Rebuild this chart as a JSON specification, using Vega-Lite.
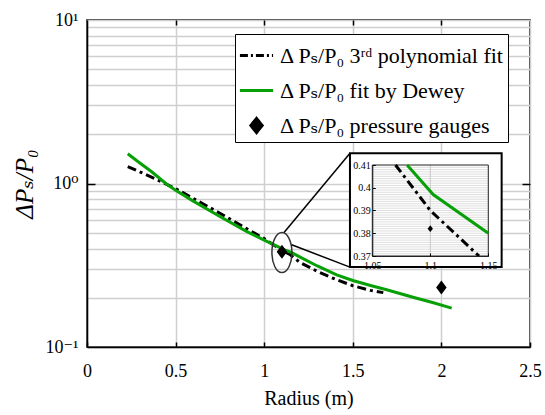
{
  "$schema": "https://vega.github.io/schema/vega-lite/v6.json",
  "width": 443,
  "height": 327,
  "autosize": "none",
  "padding": {"left": 87, "top": 20, "right": 15, "bottom": 68},
  "config": {
    "view": {"stroke": "black", "strokeWidth": 1.5},
    "font": "Times New Roman, Liberation Serif, DejaVu Serif, serif",
    "axis": {"labelFont": "Times New Roman, Liberation Serif, DejaVu Serif, serif", "titleFont": "Times New Roman, Liberation Serif, DejaVu Serif, serif"},
    "legend": {"labelFont": "Times New Roman, Liberation Serif, DejaVu Serif, serif"}
  },
  "datasets": {
    "d": [
      {"series": "poly", "r": 0.23, "p": 1.27},
      {"series": "poly", "r": 0.32, "p": 1.15},
      {"series": "poly", "r": 0.40, "p": 1.05},
      {"series": "poly", "r": 0.5, "p": 0.93},
      {"series": "poly", "r": 0.6, "p": 0.81},
      {"series": "poly", "r": 0.75, "p": 0.658},
      {"series": "poly", "r": 0.9, "p": 0.53},
      {"series": "poly", "r": 1.0, "p": 0.46},
      {"series": "poly", "r": 1.07, "p": 0.41},
      {"series": "poly", "r": 1.1, "p": 0.39},
      {"series": "poly", "r": 1.142, "p": 0.37},
      {"series": "poly", "r": 1.2, "p": 0.33},
      {"series": "poly", "r": 1.3, "p": 0.29},
      {"series": "poly", "r": 1.4, "p": 0.26},
      {"series": "poly", "r": 1.5, "p": 0.237},
      {"series": "poly", "r": 1.6, "p": 0.222},
      {"series": "poly", "r": 1.672, "p": 0.215},
      {"series": "dewey", "r": 0.23, "p": 1.52},
      {"series": "dewey", "r": 0.3, "p": 1.33},
      {"series": "dewey", "r": 0.365, "p": 1.18},
      {"series": "dewey", "r": 0.45, "p": 0.99},
      {"series": "dewey", "r": 0.5, "p": 0.91},
      {"series": "dewey", "r": 0.6, "p": 0.78},
      {"series": "dewey", "r": 0.75, "p": 0.628},
      {"series": "dewey", "r": 0.9, "p": 0.51},
      {"series": "dewey", "r": 1.0, "p": 0.45},
      {"series": "dewey", "r": 1.08, "p": 0.41},
      {"series": "dewey", "r": 1.1025, "p": 0.397},
      {"series": "dewey", "r": 1.15, "p": 0.38},
      {"series": "dewey", "r": 1.2, "p": 0.356},
      {"series": "dewey", "r": 1.3, "p": 0.313},
      {"series": "dewey", "r": 1.409, "p": 0.276},
      {"series": "dewey", "r": 1.5, "p": 0.255},
      {"series": "dewey", "r": 1.6, "p": 0.238},
      {"series": "dewey", "r": 1.691, "p": 0.224},
      {"series": "dewey", "r": 1.85, "p": 0.2},
      {"series": "dewey", "r": 1.95, "p": 0.187},
      {"series": "dewey", "r": 2.058, "p": 0.173},
      {"series": "gauge", "r": 1.1, "p": 0.382},
      {"series": "gauge", "r": 2.0, "p": 0.231},
      {"series": "ellipse", "r": 1.1, "p": 0.378},
      {"series": "link", "r": 1.112, "p": 0.502, "r2": 1.484, "p2": 1.532},
      {"series": "link", "r": 1.155, "p": 0.422, "r2": 1.484, "p2": 0.308},
      {"series": "frame", "r": 1.484, "p": 1.532, "r2": 2.34, "p2": 0.308},
      {"series": "insetbox", "r": 1.05, "p": 0.37, "r2": 1.15, "p2": 0.41},
      {"series": "vgrid", "r": 1.1, "p": 0.37, "p2": 0.41},
      {"series": "hgrid", "r": 1.05, "r2": 1.15, "p": 0.371},
      {"series": "hgrid", "r": 1.05, "r2": 1.15, "p": 0.372},
      {"series": "hgrid", "r": 1.05, "r2": 1.15, "p": 0.373},
      {"series": "hgrid", "r": 1.05, "r2": 1.15, "p": 0.374},
      {"series": "hgrid", "r": 1.05, "r2": 1.15, "p": 0.375},
      {"series": "hgrid", "r": 1.05, "r2": 1.15, "p": 0.376},
      {"series": "hgrid", "r": 1.05, "r2": 1.15, "p": 0.377},
      {"series": "hgrid", "r": 1.05, "r2": 1.15, "p": 0.378},
      {"series": "hgrid", "r": 1.05, "r2": 1.15, "p": 0.379},
      {"series": "hgrid", "r": 1.05, "r2": 1.15, "p": 0.38},
      {"series": "hgrid", "r": 1.05, "r2": 1.15, "p": 0.381},
      {"series": "hgrid", "r": 1.05, "r2": 1.15, "p": 0.382},
      {"series": "hgrid", "r": 1.05, "r2": 1.15, "p": 0.383},
      {"series": "hgrid", "r": 1.05, "r2": 1.15, "p": 0.384},
      {"series": "hgrid", "r": 1.05, "r2": 1.15, "p": 0.385},
      {"series": "hgrid", "r": 1.05, "r2": 1.15, "p": 0.386},
      {"series": "hgrid", "r": 1.05, "r2": 1.15, "p": 0.387},
      {"series": "hgrid", "r": 1.05, "r2": 1.15, "p": 0.388},
      {"series": "hgrid", "r": 1.05, "r2": 1.15, "p": 0.389},
      {"series": "hgrid", "r": 1.05, "r2": 1.15, "p": 0.39},
      {"series": "hgrid", "r": 1.05, "r2": 1.15, "p": 0.391},
      {"series": "hgrid", "r": 1.05, "r2": 1.15, "p": 0.392},
      {"series": "hgrid", "r": 1.05, "r2": 1.15, "p": 0.393},
      {"series": "hgrid", "r": 1.05, "r2": 1.15, "p": 0.394},
      {"series": "hgrid", "r": 1.05, "r2": 1.15, "p": 0.395},
      {"series": "hgrid", "r": 1.05, "r2": 1.15, "p": 0.396},
      {"series": "hgrid", "r": 1.05, "r2": 1.15, "p": 0.397},
      {"series": "hgrid", "r": 1.05, "r2": 1.15, "p": 0.398},
      {"series": "hgrid", "r": 1.05, "r2": 1.15, "p": 0.399},
      {"series": "hgrid", "r": 1.05, "r2": 1.15, "p": 0.4},
      {"series": "hgrid", "r": 1.05, "r2": 1.15, "p": 0.401},
      {"series": "hgrid", "r": 1.05, "r2": 1.15, "p": 0.402},
      {"series": "hgrid", "r": 1.05, "r2": 1.15, "p": 0.403},
      {"series": "hgrid", "r": 1.05, "r2": 1.15, "p": 0.404},
      {"series": "hgrid", "r": 1.05, "r2": 1.15, "p": 0.405},
      {"series": "hgrid", "r": 1.05, "r2": 1.15, "p": 0.406},
      {"series": "hgrid", "r": 1.05, "r2": 1.15, "p": 0.407},
      {"series": "hgrid", "r": 1.05, "r2": 1.15, "p": 0.408},
      {"series": "hgrid", "r": 1.05, "r2": 1.15, "p": 0.409}
    ]
  },
  "data": {"name": "d"},
  "layer": [
    {
      "encoding": {
        "x": {
          "field": "r", "type": "quantitative",
          "scale": {"domain": [0, 2.5], "nice": false, "zero": false},
          "axis": {
            "orient": "bottom",
            "values": [0, 0.5, 1, 1.5, 2, 2.5], "format": "~g",
            "labelFlush": false,
            "labelFontSize": 18, "labelColor": "black", "labelPadding": 20,
            "tickSize": -5, "tickColor": "black", "tickWidth": 1.5,
            "domainColor": "black", "domainWidth": 1.5,
            "grid": true, "gridColor": "#cfcfcf", "gridWidth": 1.5,
            "title": "Radius (m)", "titleFontSize": 20, "titleFontWeight": "normal",
            "titleColor": "black", "titlePadding": 8
          }
        },
        "y": {
          "field": "p", "type": "quantitative",
          "scale": {"type": "log", "domain": [0.1, 10], "nice": false},
          "axis": {
            "orient": "left",
            "values": [0.1, 0.2, 0.3, 0.4, 0.5, 0.6, 0.7, 0.8, 0.9, 1, 2, 3, 4, 5, 6, 7, 8, 9, 10],
            "labelExpr": "datum.value == 0.1 ? '10⁻¹' : datum.value == 1 ? '10⁰' : datum.value == 10 ? '10¹' : ''",
            "labelOverlap": false, "labelFlush": false,
            "labelFontSize": 18, "labelColor": "black", "labelPadding": 17,
            "tickSize": -8, "tickColor": "black", "tickWidth": 1.5,
            "tickOpacity": {"condition": {"test": "datum.value == 1", "value": 1}, "value": 0},
            "domainColor": "black", "domainWidth": 1.5,
            "grid": true, "gridColor": "#cfcfcf", "gridWidth": 1.5,
            "title": "ΔPₛ/P₀", "titleFontSize": 25, "titleFontStyle": "italic",
            "titleFontWeight": "normal", "titleColor": "black", "titlePadding": 8
          }
        },
        "color": {
          "field": "series", "type": "nominal",
          "scale": {"domain": ["poly", "dewey", "gauge"], "range": ["black", "#07a007", "black"]},
          "legend": {
            "orient": "none", "legendX": 148, "legendY": 14,
            "title": null,
            "labelExpr": "datum.value == 'poly' ? 'Δ Pₛ/P₀ 3ʳᵈ polynomial fit' : datum.value == 'dewey' ? 'Δ Pₛ/P₀ fit by Dewey' : 'Δ Pₛ/P₀ pressure gauges'",
            "labelFont": "Times New Roman, Liberation Serif, DejaVu Serif, serif",
            "labelFontSize": 22, "labelColor": "black",
            "labelLimit": 400, "labelOffset": 5,
            "symbolSize": 1100, "symbolStrokeWidth": 3,
            "rowPadding": 5, "padding": 3,
            "fillColor": "white", "strokeColor": "black",
            "encode": {
              "symbols": {
                "update": {
                  "shape": {"signal": "datum.value == 'gauge' ? 'M0,-1L0.8,0L0,1L-0.8,0Z' : 'stroke'"},
                  "size": {"signal": "datum.value == 'gauge' ? 200 : 1100"},
                  "strokeDash": {"signal": "datum.value == 'poly' ? [8, 3, 2, 3] : [1, 0]"},
                  "fill": {"signal": "datum.value == 'gauge' ? 'black' : 'transparent'"},
                  "stroke": {"signal": "datum.value == 'gauge' ? 'transparent' : datum.value == 'dewey' ? '#07a007' : 'black'"},
                  "strokeWidth": {"value": 3},
                  "opacity": {"value": 1}
                }
              }
            }
          }
        }
      },
      "layer": [
        {
          "transform": [{"filter": "datum.series == 'poly'"}],
          "mark": {"type": "line", "strokeWidth": 3, "strokeDash": [9, 4, 3, 4]}
        },
        {
          "transform": [{"filter": "datum.series == 'dewey'"}],
          "mark": {"type": "line", "strokeWidth": 3}
        },
        {
          "transform": [{"filter": "datum.series == 'gauge'"}],
          "mark": {"type": "point", "filled": true, "opacity": 1, "shape": "M0,-1L0.75,0L0,1L-0.75,0Z", "size": 196}
        }
      ]
    },
    {
      "encoding": {
        "x": {
          "field": "r", "type": "quantitative",
          "scale": {"domain": [0, 2.5], "nice": false, "zero": false},
          "axis": {
            "orient": "top", "values": [0.5, 1, 1.5, 2], "labels": false,
            "tickSize": -5, "tickColor": "black", "tickWidth": 1.5,
            "domain": false, "grid": false, "title": null
          }
        },
        "y": {
          "field": "p", "type": "quantitative",
          "scale": {"type": "log", "domain": [0.1, 10], "nice": false},
          "axis": {
            "orient": "right", "values": [1], "labels": false,
            "tickSize": -8, "tickColor": "black", "tickWidth": 1.5,
            "domain": false, "grid": false, "title": null
          }
        }
      },
      "layer": [
        {
          "transform": [{"filter": "datum.series == 'ellipse'"}],
          "mark": {"type": "point", "filled": false, "shape": "M0,-1A0.5,1 0 1,1 0,1A0.5,1 0 1,1 0,-1Z", "size": 1600, "stroke": "#333333", "strokeWidth": 1.5, "opacity": 1}
        },
        {
          "transform": [{"filter": "datum.series == 'link'"}],
          "mark": {"type": "rule", "color": "black", "strokeWidth": 1.5},
          "encoding": {"x2": {"field": "r2"}, "y2": {"field": "p2"}}
        },
        {
          "transform": [{"filter": "datum.series == 'frame'"}],
          "mark": {"type": "rect", "fill": "white", "stroke": "black", "strokeWidth": 2},
          "encoding": {"x2": {"field": "r2"}, "y2": {"field": "p2"}}
        }
      ]
    },
    {
      "encoding": {
        "x": {
          "field": "r", "type": "quantitative",
          "scale": {"domain": [1.05, 1.15], "range": [285.3, 401.3], "nice": false, "zero": false},
          "axis": {
            "orient": "bottom", "offset": -91, "zindex": 1,
            "values": [1.05, 1.1, 1.15], "format": "~g", "labelFlush": false,
            "labelFontSize": 10, "labelColor": "black", "labelPadding": 7,
            "tickSize": -3, "tickColor": "black",
            "domainColor": "#222222", "grid": false,
            "title": null
          }
        },
        "y": {
          "field": "p", "type": "quantitative",
          "scale": {"domain": [0.37, 0.41], "range": [236, 145], "nice": false, "zero": false},
          "axis": {
            "orient": "left", "offset": -285.3, "zindex": 1,
            "values": [0.37, 0.38, 0.39, 0.4, 0.41], "format": "~g",
            "labelOverlap": false, "labelFlush": false,
            "labelFontSize": 10, "labelColor": "black", "labelPadding": 5,
            "tickSize": -3, "tickColor": "black",
            "domainColor": "#222222", "grid": false,
            "title": null
          }
        }
      },
      "layer": [
        {
          "transform": [{"filter": "datum.series == 'hgrid'"}],
          "mark": {"type": "rule", "color": "#d6d6d6", "strokeWidth": 0.8},
          "encoding": {"x2": {"field": "r2"}}
        },
        {
          "transform": [{"filter": "datum.series == 'vgrid'"}],
          "mark": {"type": "rule", "color": "#c8c8c8", "strokeWidth": 1},
          "encoding": {"y2": {"field": "p2"}}
        },
        {
          "transform": [{"filter": "datum.series == 'insetbox'"}],
          "mark": {"type": "rect", "fill": "transparent", "stroke": "#222222", "strokeWidth": 1},
          "encoding": {"x2": {"field": "r2"}, "y2": {"field": "p2"}}
        },
        {
          "transform": [{"filter": "datum.series == 'poly' && datum.r >= 1.05 && datum.r <= 1.15 && datum.p >= 0.37 && datum.p <= 0.41"}],
          "mark": {"type": "line", "color": "black", "strokeWidth": 3, "strokeDash": [9, 4, 3, 4]}
        },
        {
          "transform": [{"filter": "datum.series == 'dewey' && datum.r >= 1.05 && datum.r <= 1.15 && datum.p >= 0.37 && datum.p <= 0.41"}],
          "mark": {"type": "line", "color": "#07a007", "strokeWidth": 3}
        },
        {
          "transform": [{"filter": "datum.series == 'gauge' && datum.r >= 1.05 && datum.r <= 1.15 && datum.p >= 0.37 && datum.p <= 0.41"}],
          "mark": {"type": "point", "filled": true, "color": "black", "opacity": 1, "shape": "M0,-1L0.8,0L0,1L-0.8,0Z", "size": 45}
        }
      ]
    }
  ],
  "resolve": {"scale": {"x": "independent", "y": "independent"}}
}
